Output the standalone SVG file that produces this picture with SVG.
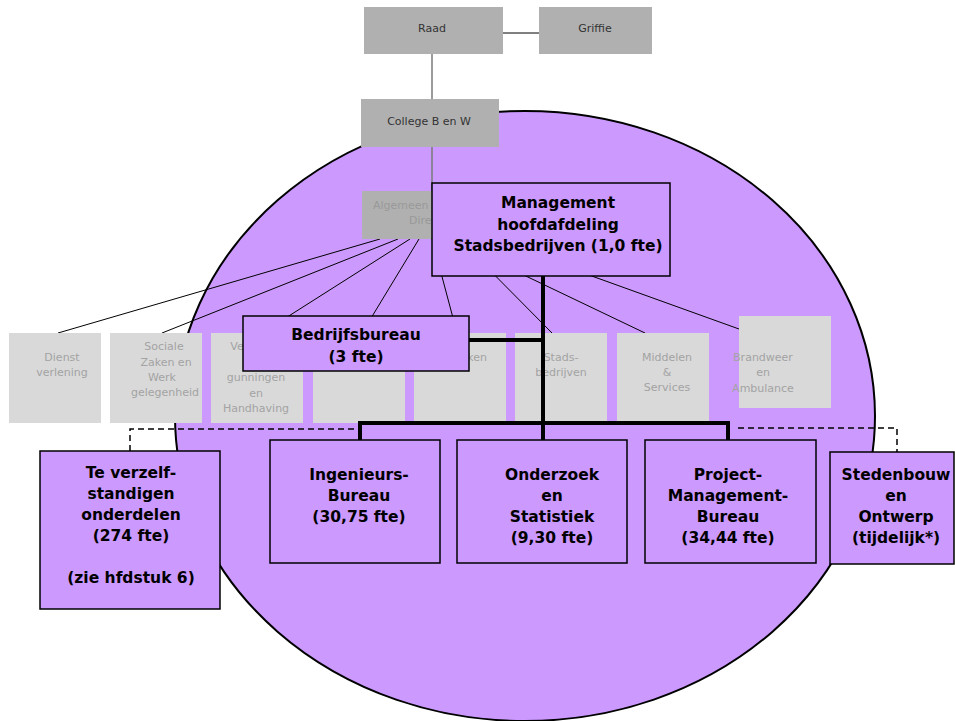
<svg xmlns="http://www.w3.org/2000/svg" width="955" height="721" viewBox="0 0 955 721">
  <style>
    .top { fill: #b0b0b0; }
    .sub { fill: #d9d9d9; }
    .unit { fill: #cc99ff; stroke: #000; stroke-width: 1.5; }
    .t-top { font-family: "DejaVu Sans", Verdana, sans-serif; font-size: 11px; fill: #333; text-anchor: middle; }
    .t-ad { font-family: "DejaVu Sans", Verdana, sans-serif; font-size: 11px; fill: #999; }
    .t-sub { font-family: "DejaVu Sans", Verdana, sans-serif; font-size: 11px; fill: #a3a3a3; text-anchor: middle; }
    .t-unit { font-family: "DejaVu Sans", Verdana, sans-serif; font-size: 15.5px; font-weight: bold; fill: #000; text-anchor: middle; }
    .thin { stroke: #000; stroke-width: 1; fill: none; }
    .grey { stroke: #7a7a7a; stroke-width: 1.5; fill: none; }
    .thick { stroke: #000; stroke-width: 4; fill: none; }
    .dash { stroke: #000; stroke-width: 1.5; fill: none; stroke-dasharray: 6 4; }
  </style>

  <!-- department cluster -->
  <ellipse id="cluster" cx="525" cy="416" rx="350" ry="305" fill="#cc99ff" stroke="#000" stroke-width="2"/>

  <!-- connectors -->
  <g id="connectors">
    <line class="thin" x1="503" y1="33" x2="539" y2="33"/>
    <line class="grey" x1="432" y1="54" x2="432" y2="99"/>
    <line class="grey" x1="432" y1="147" x2="432" y2="192"/>
    <!-- fan from Algemene Directie -->
    <line class="thin" x1="380" y1="239" x2="58" y2="333"/>
    <line class="thin" x1="398" y1="239" x2="162" y2="333"/>
    <line class="thin" x1="410" y1="239" x2="262" y2="333"/>
    <line class="thin" x1="419" y1="239" x2="362" y2="333"/>
    <line class="thin" x1="432" y1="239" x2="457" y2="333"/>
    <line class="thin" x1="450" y1="230" x2="552" y2="333"/>
    <line class="thin" x1="440" y1="235" x2="645" y2="333"/>
    <line class="thin" x1="450" y1="225" x2="739" y2="329"/>
    <!-- dashed links to external units -->
    <polyline class="dash" points="130,451 130,429 357,429"/>
    <polyline class="dash" points="738,428 897,428 897,452"/>
  </g>

  <!-- board level -->
  <g id="raad"><rect class="top" x="364" y="7" width="139" height="47"/><text class="t-top" x="432" y="32">Raad</text></g>
  <g id="griffie"><rect class="top" x="539" y="7" width="113" height="47"/><text class="t-top" x="595" y="32">Griffie</text></g>
  <g id="college"><rect class="top" x="361" y="99" width="138" height="48"/><text class="t-top" x="429" y="125">College B en W</text></g>
  <g id="algemene-directie"><rect class="top" x="362" y="191" width="138" height="48"/><text class="t-ad" x="373" y="209">Algemeen</text><text class="t-ad" x="409" y="224">Dire</text></g>

  <!-- services -->
  <g id="dienstverlening"><rect class="sub" x="9" y="333" width="92" height="90"/><text class="t-sub" x="62" y="361">Dienst</text><text class="t-sub" x="62" y="376">verlening</text></g>
  <g id="szw"><rect class="sub" x="110" y="333" width="92" height="90"/><text class="t-sub" x="164" y="350">Sociale</text><text class="t-sub" x="166" y="366">Zaken en</text><text class="t-sub" x="162" y="381">Werk</text><text class="t-sub" x="165" y="396">gelegenheid</text></g>
  <g id="vergunningen"><rect class="sub" x="211" y="333" width="92" height="90"/><text class="t-sub" x="237" y="350">Ve</text><text class="t-sub" x="256" y="381">gunningen</text><text class="t-sub" x="256" y="397">en</text><text class="t-sub" x="256" y="412">Handhaving</text></g>
  <g id="dienst-4"><rect class="sub" x="313" y="333" width="92" height="90"/></g>
  <g id="dienst-5"><rect class="sub" x="414" y="333" width="92" height="90"/><text class="t-sub" x="487" y="361" style="text-anchor:end">ken</text></g>
  <g id="stadsbedrijven-dienst"><rect class="sub" x="515" y="333" width="92" height="90"/><text class="t-sub" x="561" y="361">Stads-</text><text class="t-sub" x="561" y="376">bedrijven</text></g>
  <g id="middelen"><rect class="sub" x="617" y="333" width="92" height="90"/><text class="t-sub" x="667" y="361">Middelen</text><text class="t-sub" x="667" y="376">&amp;</text><text class="t-sub" x="667" y="391">Services</text></g>
  <g id="brandweer"><rect class="sub" x="739" y="316" width="92" height="92"/><text class="t-sub" x="763" y="361">Brandweer</text><text class="t-sub" x="763" y="376">en</text><text class="t-sub" x="763" y="392">Ambulance</text></g>

  <!-- hierarchy of Stadsbedrijven -->
  <g id="hierarchy">
    <line class="thick" x1="543" y1="276" x2="543" y2="440"/>
    <line class="thick" x1="468" y1="340" x2="543" y2="340"/>
    <polyline class="thick" points="360,440 360,423 728,423 728,440"/>
  </g>

  <g id="management"><rect class="unit" x="432" y="183" width="238" height="93"/>
    <text class="t-unit" x="558" y="208">Management</text>
    <text class="t-unit" x="558" y="229.5">hoofdafdeling</text>
    <text class="t-unit" x="558" y="251">Stadsbedrijven (1,0 fte)</text></g>

  <g id="bedrijfsbureau"><rect class="unit" x="243" y="316" width="226" height="55"/>
    <text class="t-unit" x="356" y="340">Bedrijfsbureau</text>
    <text class="t-unit" x="356" y="362">(3 fte)</text></g>

  <g id="ingenieursbureau"><rect class="unit" x="270" y="440" width="170" height="123"/>
    <text class="t-unit" x="359" y="480">Ingenieurs-</text>
    <text class="t-unit" x="359" y="501">Bureau</text>
    <text class="t-unit" x="359" y="522">(30,75 fte)</text></g>

  <g id="onderzoek"><rect class="unit" x="457" y="440" width="170" height="123"/>
    <text class="t-unit" x="552" y="480">Onderzoek</text>
    <text class="t-unit" x="552" y="501">en</text>
    <text class="t-unit" x="552" y="522">Statistiek</text>
    <text class="t-unit" x="552" y="543">(9,30 fte)</text></g>

  <g id="pmb"><rect class="unit" x="645" y="440" width="171" height="123"/>
    <text class="t-unit" x="728" y="480">Project-</text>
    <text class="t-unit" x="728" y="501">Management-</text>
    <text class="t-unit" x="728" y="522">Bureau</text>
    <text class="t-unit" x="728" y="543">(34,44 fte)</text></g>

  <g id="stedenbouw"><rect class="unit" x="830" y="452" width="124" height="112"/>
    <text class="t-unit" x="896" y="480">Stedenbouw</text>
    <text class="t-unit" x="896" y="501">en</text>
    <text class="t-unit" x="896" y="522">Ontwerp</text>
    <text class="t-unit" x="896" y="543">(tijdelijk*)</text></g>

  <g id="verzelfstandigen"><rect class="unit" x="40" y="451" width="180" height="158"/>
    <text class="t-unit" x="131" y="478">Te verzelf-</text>
    <text class="t-unit" x="131" y="499">standigen</text>
    <text class="t-unit" x="131" y="520">onderdelen</text>
    <text class="t-unit" x="131" y="541">(274 fte)</text>
    <text class="t-unit" x="131" y="583">(zie hfdstuk 6)</text></g>
</svg>
